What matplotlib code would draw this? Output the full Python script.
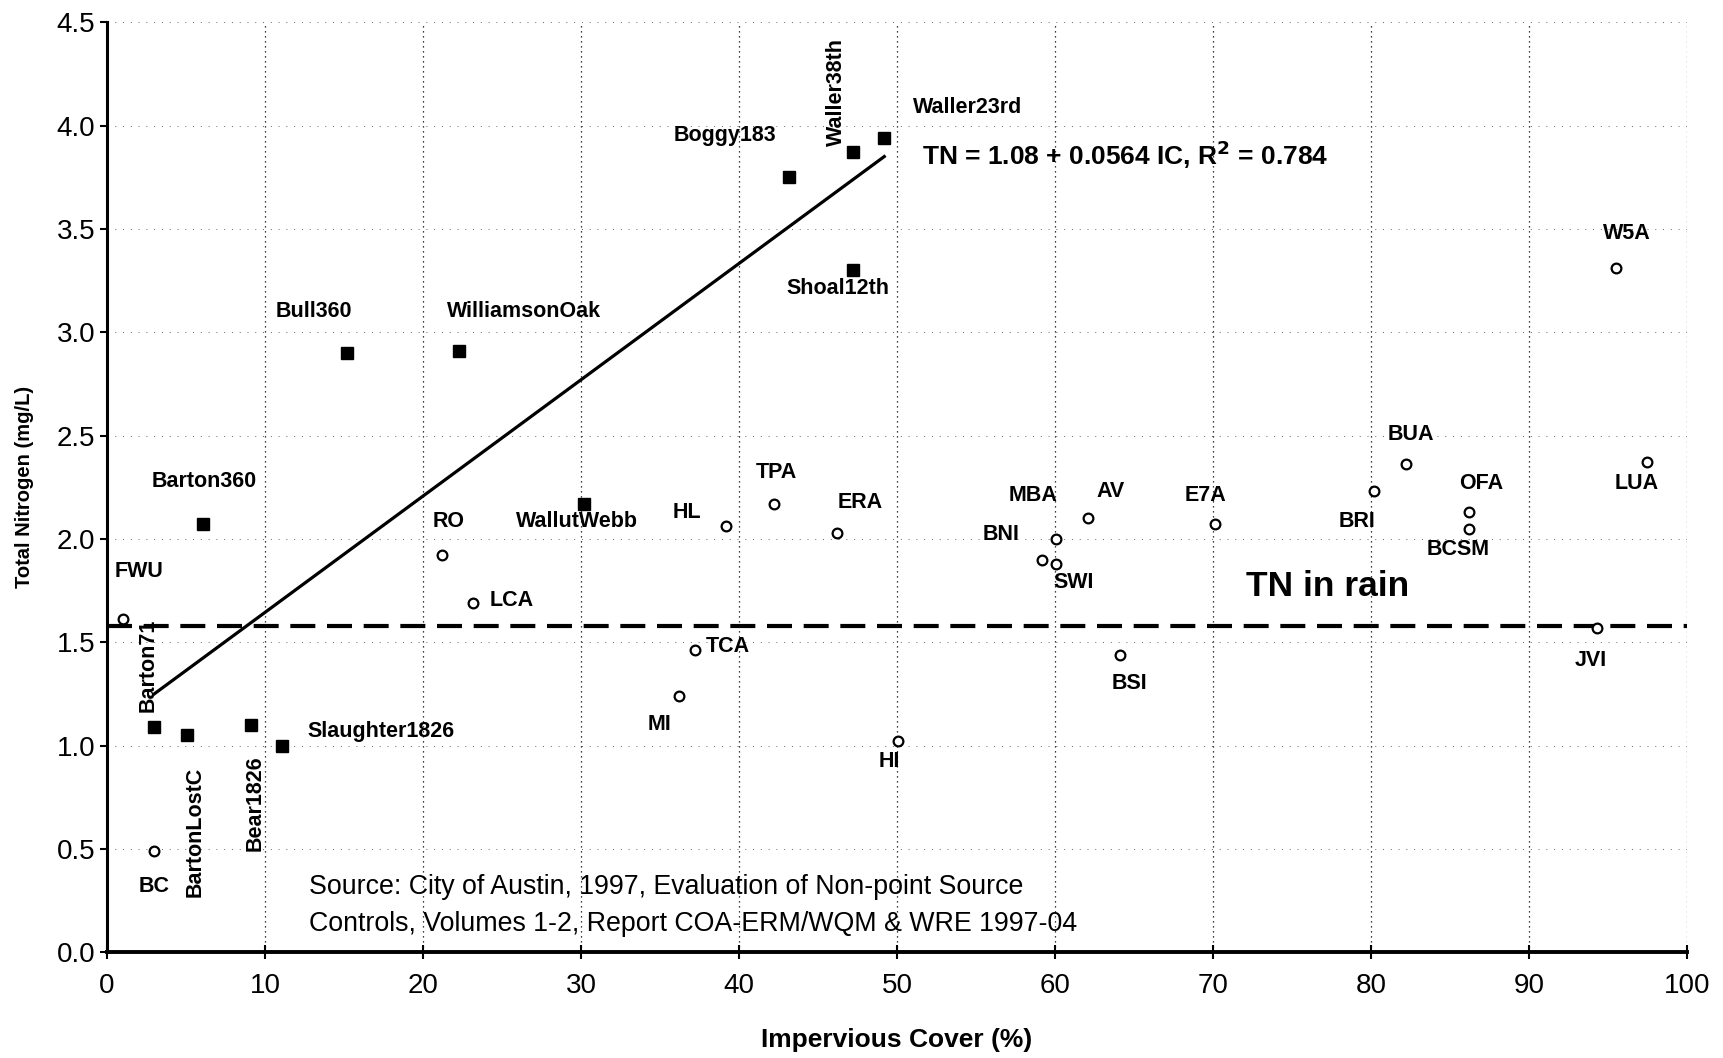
import numpy as np
import matplotlib
matplotlib.use("Agg")
import matplotlib.pyplot as plt

plt.rcParams['font.family'] = ['Liberation Sans', 'DejaVu Sans']

# watersheds with filled squares
sq_names = ['Barton71', 'BartonLostC', 'Bear1826', 'Slaughter1826', 'Barton360', 'Bull360',
            'WilliamsonOak', 'WallutWebb', 'Boggy183', 'Waller38th', 'Waller23rd', 'Shoal12th']
sq_x = [3.0, 5.1, 9.1, 11.1, 6.1, 15.2, 22.3, 30.2, 43.2, 47.2, 49.2, 47.2]
sq_y = [1.09, 1.05, 1.10, 1.00, 2.07, 2.90, 2.91, 2.17, 3.75, 3.87, 3.94, 3.30]

# watersheds with open circles
ci_names = ['FWU', 'BC', 'RO', 'LCA', 'MI', 'TCA', 'HL', 'TPA', 'ERA', 'HI', 'BNI', 'MBA', 'SWI',
            'AV', 'BSI', 'E7A', 'BRI', 'BUA', 'OFA', 'BCSM', 'W5A', 'LUA', 'JVI']
ci_x = [1.0, 3.0, 21.2, 23.2, 36.2, 37.2, 39.2, 42.2, 46.2, 50.1, 59.2, 60.1, 60.1,
        62.1, 64.1, 70.1, 80.2, 82.2, 86.2, 86.2, 95.5, 97.5, 94.3]
ci_y = [1.61, 0.49, 1.92, 1.69, 1.24, 1.46, 2.06, 2.17, 2.03, 1.02, 1.90, 2.00, 1.88,
        2.10, 1.44, 2.07, 2.23, 2.36, 2.13, 2.05, 3.31, 2.37, 1.57]

# regression line end points and rain level
fit_x = [3.0, 49.2]
fit_y = [1.25, 3.85]
rain_tn = 1.58

# label placement: (x, y, ha, rotation)
labels = {
    'Bull360': (10.7, 3.10, 'left', 0), 'WilliamsonOak': (21.5, 3.10, 'left', 0),
    'Boggy183': (35.9, 3.95, 'left', 0), 'Waller38th': (46.2, 4.16, 'center', 90),
    'Waller23rd': (51.0, 4.085, 'left', 0), 'Shoal12th': (43.0, 3.21, 'left', 0),
    'W5A': (96.2, 3.48, 'center', 0), 'Barton360': (2.85, 2.28, 'left', 0),
    'FWU': (0.5, 1.84, 'left', 0), 'Barton71': (2.6, 1.39, 'center', 90),
    'BartonLostC': (5.6, 0.58, 'center', 90), 'Bear1826': (9.4, 0.72, 'center', 90),
    'Slaughter1826': (12.7, 1.07, 'left', 0), 'BC': (3.0, 0.32, 'center', 0),
    'RO': (21.6, 2.085, 'center', 0), 'LCA': (24.2, 1.70, 'left', 0),
    'WallutWebb': (25.9, 2.085, 'left', 0), 'HL': (36.7, 2.13, 'center', 0),
    'TPA': (42.4, 2.32, 'center', 0), 'ERA': (47.7, 2.175, 'center', 0),
    'TCA': (37.9, 1.48, 'left', 0), 'MI': (35.0, 1.10, 'center', 0),
    'HI': (49.5, 0.925, 'center', 0), 'MBA': (58.6, 2.21, 'center', 0),
    'AV': (63.5, 2.23, 'center', 0), 'BNI': (56.6, 2.02, 'center', 0),
    'SWI': (61.2, 1.79, 'center', 0), 'BSI': (64.7, 1.30, 'center', 0),
    'E7A': (69.5, 2.21, 'center', 0), 'BRI': (79.1, 2.085, 'center', 0),
    'BUA': (82.5, 2.505, 'center', 0), 'OFA': (87.0, 2.27, 'center', 0),
    'BCSM': (85.5, 1.95, 'center', 0), 'LUA': (96.8, 2.27, 'center', 0),
    'JVI': (93.9, 1.41, 'center', 0),
}

fig = plt.figure(figsize=(17.24, 10.58), dpi=100)
ax = fig.add_axes([0.062, 0.100, 0.9165, 0.879])

ax.set_xlim(0, 100)
ax.set_ylim(0, 4.5)
ax.set_xticks(np.arange(0, 101, 10))
ax.set_yticks(np.arange(0, 4.51, 0.5))
ax.set_yticklabels(['%.1f' % v for v in np.arange(0, 4.51, 0.5)])

# dotted grid
for gx in range(10, 101, 10):
    ax.axvline(gx, color='black', lw=0.9, ls=(0, (1, 3)), zorder=0)
for gy in np.arange(0.5, 4.51, 0.5):
    ax.axhline(gy, color='black', lw=0.7, ls=(0, (1, 7)), alpha=0.6, zorder=0)

ax.plot(fit_x, fit_y, color='black', lw=2.3, zorder=2)
ax.plot([0, 100], [rain_tn, rain_tn], color='black', lw=3, dashes=(6, 2.8), zorder=2)

ax.plot(sq_x, sq_y, 's', color='black', ms=9, ls='none', zorder=3)
ax.plot(ci_x, ci_y, 'o', mfc='white', mec='black', mew=1.6, ms=7, ls='none', zorder=3)

for name, (lx, ly, ha, rot) in labels.items():
    ax.text(lx, ly, name, ha=ha, va='center', rotation=rot, fontsize=15.5, fontweight='bold')

ax.text(51.6, 3.86, r'TN = 1.08 + 0.0564 IC, R$^{\mathbf{2}}$ = 0.784', fontsize=19,
        fontweight='bold', va='center', ha='left')
ax.text(72.1, 1.77, 'TN in rain', fontsize=25.5, fontweight='bold', va='center', ha='left')
ax.text(12.8, 0.314, 'Source: City of Austin, 1997, Evaluation of Non-point Source',
        fontsize=19.3, va='center', ha='left')
ax.text(12.8, 0.138, 'Controls, Volumes 1-2, Report COA-ERM/WQM & WRE 1997-04',
        fontsize=19.3, va='center', ha='left')

ax.spines['top'].set_visible(False)
ax.spines['right'].set_visible(False)
ax.spines['left'].set_linewidth(2.2)
ax.spines['bottom'].set_linewidth(2.8)
ax.tick_params(axis='x', direction='inout', length=10, width=1.5, labelsize=20, pad=10)
ax.tick_params(axis='y', direction='out', length=5, width=1.5, labelsize=20)

ax.set_xlabel('Impervious Cover (%)', fontsize=19, fontweight='bold', labelpad=21)
ax.set_ylabel('Total Nitrogen (mg/L)', fontsize=14.5, fontweight='bold', labelpad=16)

fig.savefig('out.png', dpi=100)
